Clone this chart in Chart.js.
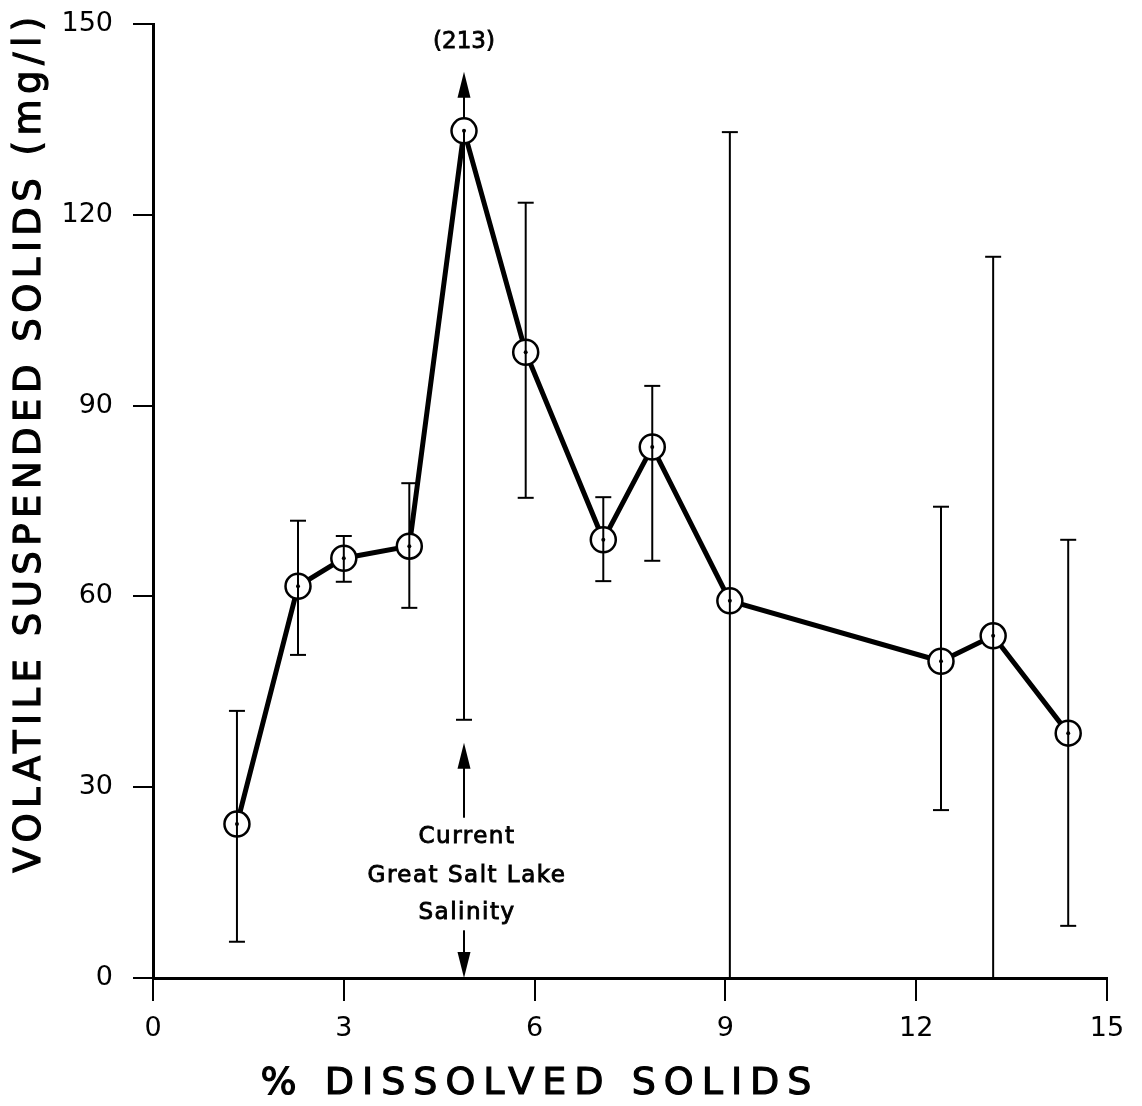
<!DOCTYPE html>
<html>
<head>
<meta charset="utf-8">
<script src="https://cdn.jsdelivr.net/npm/chart.js@4.4.0/dist/chart.umd.min.js"></script>
<style>
  html, body { margin: 0; padding: 0; background: #fff; }
  #wrap { width: 1142px; height: 1106px; position: relative; }
</style>
</head>
<body>
<div id="wrap"><canvas id="c" width="1142" height="1106"></canvas></div>
<script>
// ---- data ----
const dissolvedSolids = [1.32, 2.28, 3.0, 4.03, 4.89, 5.86, 7.08, 7.85, 9.07, 12.39, 13.21, 14.39];
const volatileSolids  = [24.2, 61.6, 66.0, 67.9, 133.2, 98.4, 68.9, 83.5, 59.3, 49.8, 53.8, 38.5];
const errorHigh       = [42.0, 71.9, 69.5, 77.8, null, 121.9, 75.6, 93.1, 133.0, 74.1, 113.4, 68.9];
const errorLow        = [5.7, 50.8, 62.3, 58.2, 40.6, 75.5, 62.4, 65.6, 0, 26.4, 0, 8.2];
const offScaleLabel   = "(213)";
const offScaleArrowTip = 142.5;
const offScaleLabelY  = 147.2;
const xTicks = [0, 3, 6, 9, 12, 15];
const yTicks = [0, 30, 60, 90, 120, 150];
const salinityX = 4.89;
const salinityText = ["Current", "Great Salt Lake", "Salinity"];
const salinityTextY = [22.2, 16.0, 10.2];
const salinityUpArrow = [25.2, 37.0];
const salinityDownArrow = [7.5, 0];
const xTitle = "% DISSOLVED SOLIDS";
const yTitle = "VOLATILE SUSPENDED SOLIDS (mg/l)";

Chart.defaults.font.family = "'DejaVu Sans', sans-serif";
Chart.defaults.color = '#000';

function arrow(ctx, x, y1, y2) {
  const dir = y2 < y1 ? 1 : -1;
  const headLen = 26, headW = 6.5;
  ctx.beginPath();
  ctx.moveTo(x, y1);
  ctx.lineTo(x, y2 + dir * headLen * 0.8);
  ctx.stroke();
  ctx.beginPath();
  ctx.moveTo(x, y2);
  ctx.lineTo(x - headW, y2 + dir * headLen);
  ctx.lineTo(x + headW, y2 + dir * headLen);
  ctx.closePath();
  ctx.fill();
}

function heavyText(ctx, t, x, y, w) {
  ctx.lineWidth = w;
  ctx.strokeText(t, x, y);
  ctx.fillText(t, x, y);
}

const annotate = {
  id: 'annotate',
  afterDatasetsDraw(chart) {
    const ctx = chart.ctx;
    const xs = chart.scales.x, ys = chart.scales.y;
    ctx.save();
    ctx.strokeStyle = '#000';
    ctx.fillStyle = '#000';
    const cap = 8;
    for (let i = 0; i < dissolvedSolids.length; i++) {
      const px = xs.getPixelForValue(dissolvedSolids[i]);
      const py = ys.getPixelForValue(volatileSolids[i]);
      const lo = ys.getPixelForValue(errorLow[i]);
      ctx.lineWidth = 2;
      ctx.beginPath();
      ctx.moveTo(px, py); ctx.lineTo(px, lo); ctx.stroke();
      if (errorLow[i] > 0) {
        ctx.beginPath(); ctx.moveTo(px - cap, lo); ctx.lineTo(px + cap, lo); ctx.stroke();
      }
      if (errorHigh[i] !== null) {
        const hi = ys.getPixelForValue(errorHigh[i]);
        ctx.beginPath(); ctx.moveTo(px, py); ctx.lineTo(px, hi); ctx.stroke();
        ctx.beginPath(); ctx.moveTo(px - cap, hi); ctx.lineTo(px + cap, hi); ctx.stroke();
      } else {
        arrow(ctx, px, py - 12, ys.getPixelForValue(offScaleArrowTip));
        ctx.font = '23px "DejaVu Sans"';
        ctx.textAlign = 'center';
        ctx.textBaseline = 'middle';
        heavyText(ctx, offScaleLabel, px, ys.getPixelForValue(offScaleLabelY), 0.8);
      }
    }
    // salinity annotation
    ctx.lineWidth = 2;
    const sx = xs.getPixelForValue(salinityX);
    arrow(ctx, sx, ys.getPixelForValue(salinityUpArrow[0]), ys.getPixelForValue(salinityUpArrow[1]));
    arrow(ctx, sx, ys.getPixelForValue(salinityDownArrow[0]), ys.getPixelForValue(salinityDownArrow[1]));
    ctx.font = '23px "DejaVu Sans"';
    ctx.letterSpacing = '1.5px';
    ctx.textAlign = 'center';
    ctx.textBaseline = 'middle';
    salinityText.forEach((t, k) => heavyText(ctx, t, sx + 3, ys.getPixelForValue(salinityTextY[k]), 0.9));

    // axis titles
    ctx.font = '38px "DejaVu Sans"';
    ctx.letterSpacing = '8px';
    heavyText(ctx, xTitle, 540, 1084, 1.2);
    ctx.translate(30, 442);
    ctx.rotate(-Math.PI / 2);
    ctx.font = '37px "DejaVu Sans"';
    ctx.letterSpacing = '5.5px';
    heavyText(ctx, yTitle, 0, 0, 1.2);
    ctx.restore();
  }
};

new Chart(document.getElementById('c'), {
  type: 'scatter',
  data: {
    datasets: [
      {
        data: dissolvedSolids.map((x, i) => ({ x, y: volatileSolids[i] })),
        showLine: true,
        borderColor: '#000',
        borderWidth: 5,
        pointRadius: 12.5,
        pointBorderWidth: 2.5,
        pointBackgroundColor: '#fff',
        pointBorderColor: '#000',
        order: 2
      },
      {
        data: dissolvedSolids.map((x, i) => ({ x, y: volatileSolids[i] })),
        showLine: false,
        pointRadius: 2,
        pointBackgroundColor: '#000',
        pointBorderColor: '#000',
        pointBorderWidth: 0,
        order: 1
      }
    ]
  },
  options: {
    responsive: false,
    animation: false,
    layout: { padding: { top: 24, right: 35, left: 0, bottom: 0 } },
    plugins: { legend: { display: false }, tooltip: { enabled: false } },
    scales: {
      x: {
        type: 'linear', min: 0, max: 15,
        afterBuildTicks: s => { s.ticks = xTicks.map(v => ({ value: v })); },
        afterFit: s => { s.height = 128; s.paddingLeft = 0; s.paddingRight = 0; },
        grid: { drawOnChartArea: false, drawTicks: true, tickLength: 23, color: '#000', lineWidth: 2 },
        border: { display: true, color: '#000', width: 3 },
        ticks: { font: { size: 27 }, padding: 12, color: '#000', maxRotation: 0 }
      },
      y: {
        type: 'linear', min: 0, max: 150,
        afterBuildTicks: s => { s.ticks = yTicks.map(v => ({ value: v })); },
        afterFit: s => { s.width = 153; s.paddingTop = 0; s.paddingBottom = 0; },
        grid: { drawOnChartArea: false, drawTicks: true, tickLength: 20, color: '#000', lineWidth: 2 },
        border: { display: true, color: '#000', width: 3 },
        ticks: { font: { size: 27 }, padding: 20, color: '#000' }
      }
    }
  },
  plugins: [annotate]
});
</script>
</body>
</html>
